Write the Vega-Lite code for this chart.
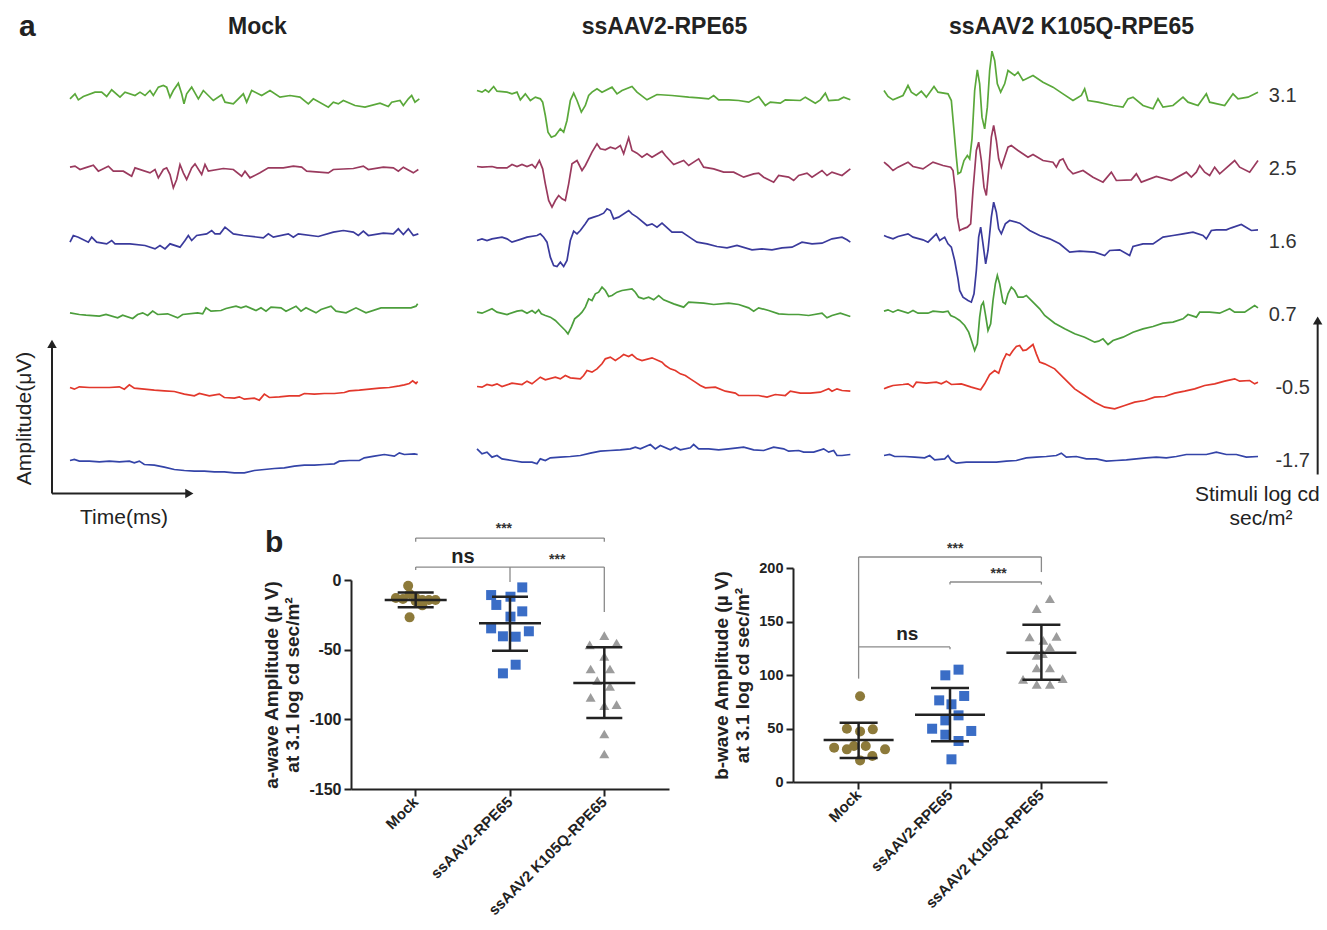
{
"$schema": "https://vega.github.io/schema/vega-lite/v6.json",
"padding": {"left": 13, "top": 12, "right": 4, "bottom": 4},
"config": {"font": "Liberation Sans", "view": {"stroke": null}, "axis": {"grid": false}},
"spacing": -7,
"resolve": {"scale": {"color": "independent", "shape": "independent"}},
"datasets": {
"erg": [
{"g":"M","s":"3.1","t":0,"v":-10},{"g":"M","s":"3.1","t":15,"v":5},{"g":"M","s":"3.1","t":25,"v":-13},{"g":"M","s":"3.1","t":40,"v":-3},{"g":"M","s":"3.1","t":75,"v":10},{"g":"M","s":"3.1","t":95,"v":10},{"g":"M","s":"3.1","t":110,"v":-3},{"g":"M","s":"3.1","t":125,"v":17},{"g":"M","s":"3.1","t":150,"v":-5},{"g":"M","s":"3.1","t":165,"v":10},{"g":"M","s":"3.1","t":195,"v":0},{"g":"M","s":"3.1","t":210,"v":10},{"g":"M","s":"3.1","t":225,"v":0},{"g":"M","s":"3.1","t":240,"v":15},{"g":"M","s":"3.1","t":250,"v":0},{"g":"M","s":"3.1","t":265,"v":25},{"g":"M","s":"3.1","t":280,"v":30},{"g":"M","s":"3.1","t":290,"v":25},{"g":"M","s":"3.1","t":300,"v":-5},{"g":"M","s":"3.1","t":310,"v":15},{"g":"M","s":"3.1","t":325,"v":37},{"g":"M","s":"3.1","t":335,"v":5},{"g":"M","s":"3.1","t":342,"v":-25},{"g":"M","s":"3.1","t":350,"v":5},{"g":"M","s":"3.1","t":365,"v":25},{"g":"M","s":"3.1","t":385,"v":-10},{"g":"M","s":"3.1","t":400,"v":15},{"g":"M","s":"3.1","t":430,"v":-15},{"g":"M","s":"3.1","t":455,"v":2},{"g":"M","s":"3.1","t":465,"v":-20},{"g":"M","s":"3.1","t":490,"v":-25},{"g":"M","s":"3.1","t":520,"v":5},{"g":"M","s":"3.1","t":530,"v":-20},{"g":"M","s":"3.1","t":545,"v":15},{"g":"M","s":"3.1","t":575,"v":0},{"g":"M","s":"3.1","t":600,"v":15},{"g":"M","s":"3.1","t":630,"v":-5},{"g":"M","s":"3.1","t":660,"v":0},{"g":"M","s":"3.1","t":690,"v":-5},{"g":"M","s":"3.1","t":715,"v":-25},{"g":"M","s":"3.1","t":730,"v":-10},{"g":"M","s":"3.1","t":775,"v":-35},{"g":"M","s":"3.1","t":790,"v":-20},{"g":"M","s":"3.1","t":805,"v":-25},{"g":"M","s":"3.1","t":820,"v":-15},{"g":"M","s":"3.1","t":855,"v":-30},{"g":"M","s":"3.1","t":885,"v":-35},{"g":"M","s":"3.1","t":930,"v":-23},{"g":"M","s":"3.1","t":955,"v":-33},{"g":"M","s":"3.1","t":965,"v":-20},{"g":"M","s":"3.1","t":990,"v":-15},{"g":"M","s":"3.1","t":1000,"v":-30},{"g":"M","s":"3.1","t":1015,"v":-10},{"g":"M","s":"3.1","t":1025,"v":0},{"g":"M","s":"3.1","t":1035,"v":-20},{"g":"M","s":"3.1","t":1048,"v":-10},
{"g":"M","s":"2.5","t":0,"v":4},{"g":"M","s":"2.5","t":15,"v":7},{"g":"M","s":"2.5","t":30,"v":-3},{"g":"M","s":"2.5","t":45,"v":2},{"g":"M","s":"2.5","t":70,"v":10},{"g":"M","s":"2.5","t":85,"v":-8},{"g":"M","s":"2.5","t":115,"v":7},{"g":"M","s":"2.5","t":130,"v":-8},{"g":"M","s":"2.5","t":160,"v":-8},{"g":"M","s":"2.5","t":185,"v":-23},{"g":"M","s":"2.5","t":195,"v":2},{"g":"M","s":"2.5","t":240,"v":-13},{"g":"M","s":"2.5","t":255,"v":-3},{"g":"M","s":"2.5","t":265,"v":-28},{"g":"M","s":"2.5","t":280,"v":-3},{"g":"M","s":"2.5","t":290,"v":2},{"g":"M","s":"2.5","t":300,"v":-18},{"g":"M","s":"2.5","t":310,"v":-58},{"g":"M","s":"2.5","t":320,"v":-33},{"g":"M","s":"2.5","t":330,"v":12},{"g":"M","s":"2.5","t":340,"v":-13},{"g":"M","s":"2.5","t":350,"v":-33},{"g":"M","s":"2.5","t":365,"v":2},{"g":"M","s":"2.5","t":375,"v":14},{"g":"M","s":"2.5","t":395,"v":-18},{"g":"M","s":"2.5","t":405,"v":12},{"g":"M","s":"2.5","t":415,"v":-8},{"g":"M","s":"2.5","t":460,"v":0},{"g":"M","s":"2.5","t":490,"v":-3},{"g":"M","s":"2.5","t":515,"v":-23},{"g":"M","s":"2.5","t":525,"v":-8},{"g":"M","s":"2.5","t":540,"v":-28},{"g":"M","s":"2.5","t":570,"v":-13},{"g":"M","s":"2.5","t":595,"v":2},{"g":"M","s":"2.5","t":640,"v":2},{"g":"M","s":"2.5","t":670,"v":7},{"g":"M","s":"2.5","t":695,"v":4},{"g":"M","s":"2.5","t":710,"v":-8},{"g":"M","s":"2.5","t":775,"v":-13},{"g":"M","s":"2.5","t":790,"v":-3},{"g":"M","s":"2.5","t":850,"v":0},{"g":"M","s":"2.5","t":880,"v":7},{"g":"M","s":"2.5","t":895,"v":-3},{"g":"M","s":"2.5","t":940,"v":4},{"g":"M","s":"2.5","t":970,"v":2},{"g":"M","s":"2.5","t":985,"v":-8},{"g":"M","s":"2.5","t":1000,"v":4},{"g":"M","s":"2.5","t":1030,"v":-13},{"g":"M","s":"2.5","t":1045,"v":-3},
{"g":"M","s":"1.6","t":0,"v":-2},{"g":"M","s":"1.6","t":10,"v":18},{"g":"M","s":"1.6","t":25,"v":13},{"g":"M","s":"1.6","t":55,"v":-2},{"g":"M","s":"1.6","t":65,"v":13},{"g":"M","s":"1.6","t":80,"v":-2},{"g":"M","s":"1.6","t":110,"v":-7},{"g":"M","s":"1.6","t":125,"v":3},{"g":"M","s":"1.6","t":135,"v":-7},{"g":"M","s":"1.6","t":180,"v":-7},{"g":"M","s":"1.6","t":225,"v":-12},{"g":"M","s":"1.6","t":255,"v":-22},{"g":"M","s":"1.6","t":270,"v":-12},{"g":"M","s":"1.6","t":285,"v":-22},{"g":"M","s":"1.6","t":300,"v":-7},{"g":"M","s":"1.6","t":330,"v":-17},{"g":"M","s":"1.6","t":345,"v":3},{"g":"M","s":"1.6","t":355,"v":18},{"g":"M","s":"1.6","t":365,"v":3},{"g":"M","s":"1.6","t":380,"v":18},{"g":"M","s":"1.6","t":410,"v":23},{"g":"M","s":"1.6","t":425,"v":33},{"g":"M","s":"1.6","t":435,"v":23},{"g":"M","s":"1.6","t":450,"v":23},{"g":"M","s":"1.6","t":465,"v":43},{"g":"M","s":"1.6","t":475,"v":35},{"g":"M","s":"1.6","t":490,"v":23},{"g":"M","s":"1.6","t":520,"v":18},{"g":"M","s":"1.6","t":580,"v":11},{"g":"M","s":"1.6","t":595,"v":23},{"g":"M","s":"1.6","t":610,"v":13},{"g":"M","s":"1.6","t":655,"v":23},{"g":"M","s":"1.6","t":670,"v":13},{"g":"M","s":"1.6","t":685,"v":23},{"g":"M","s":"1.6","t":745,"v":15},{"g":"M","s":"1.6","t":790,"v":28},{"g":"M","s":"1.6","t":820,"v":33},{"g":"M","s":"1.6","t":850,"v":28},{"g":"M","s":"1.6","t":865,"v":18},{"g":"M","s":"1.6","t":880,"v":31},{"g":"M","s":"1.6","t":895,"v":18},{"g":"M","s":"1.6","t":940,"v":25},{"g":"M","s":"1.6","t":970,"v":23},{"g":"M","s":"1.6","t":985,"v":38},{"g":"M","s":"1.6","t":1000,"v":21},{"g":"M","s":"1.6","t":1015,"v":38},{"g":"M","s":"1.6","t":1030,"v":18},{"g":"M","s":"1.6","t":1045,"v":23},
{"g":"M","s":"0.7","t":0,"v":5},{"g":"M","s":"0.7","t":28,"v":0},{"g":"M","s":"0.7","t":48,"v":-2},{"g":"M","s":"0.7","t":88,"v":-5},{"g":"M","s":"0.7","t":108,"v":0},{"g":"M","s":"0.7","t":143,"v":-10},{"g":"M","s":"0.7","t":158,"v":-2},{"g":"M","s":"0.7","t":188,"v":-12},{"g":"M","s":"0.7","t":203,"v":0},{"g":"M","s":"0.7","t":218,"v":5},{"g":"M","s":"0.7","t":233,"v":-3},{"g":"M","s":"0.7","t":248,"v":10},{"g":"M","s":"0.7","t":263,"v":0},{"g":"M","s":"0.7","t":293,"v":2},{"g":"M","s":"0.7","t":323,"v":-10},{"g":"M","s":"0.7","t":338,"v":0},{"g":"M","s":"0.7","t":383,"v":5},{"g":"M","s":"0.7","t":398,"v":2},{"g":"M","s":"0.7","t":408,"v":20},{"g":"M","s":"0.7","t":423,"v":10},{"g":"M","s":"0.7","t":453,"v":12},{"g":"M","s":"0.7","t":468,"v":18},{"g":"M","s":"0.7","t":498,"v":25},{"g":"M","s":"0.7","t":513,"v":20},{"g":"M","s":"0.7","t":528,"v":25},{"g":"M","s":"0.7","t":558,"v":12},{"g":"M","s":"0.7","t":573,"v":20},{"g":"M","s":"0.7","t":588,"v":10},{"g":"M","s":"0.7","t":603,"v":22},{"g":"M","s":"0.7","t":633,"v":20},{"g":"M","s":"0.7","t":648,"v":10},{"g":"M","s":"0.7","t":678,"v":25},{"g":"M","s":"0.7","t":693,"v":10},{"g":"M","s":"0.7","t":708,"v":20},{"g":"M","s":"0.7","t":738,"v":5},{"g":"M","s":"0.7","t":753,"v":15},{"g":"M","s":"0.7","t":783,"v":25},{"g":"M","s":"0.7","t":798,"v":10},{"g":"M","s":"0.7","t":828,"v":5},{"g":"M","s":"0.7","t":858,"v":20},{"g":"M","s":"0.7","t":888,"v":5},{"g":"M","s":"0.7","t":933,"v":20},{"g":"M","s":"0.7","t":963,"v":20},{"g":"M","s":"0.7","t":993,"v":20},{"g":"M","s":"0.7","t":1023,"v":20},{"g":"M","s":"0.7","t":1038,"v":25},{"g":"M","s":"0.7","t":1043,"v":32},
{"g":"M","s":"-0.5","t":0,"v":0},{"g":"M","s":"-0.5","t":13,"v":-5},{"g":"M","s":"-0.5","t":28,"v":2},{"g":"M","s":"-0.5","t":58,"v":0},{"g":"M","s":"-0.5","t":88,"v":0},{"g":"M","s":"-0.5","t":118,"v":0},{"g":"M","s":"-0.5","t":148,"v":2},{"g":"M","s":"-0.5","t":163,"v":-5},{"g":"M","s":"-0.5","t":178,"v":8},{"g":"M","s":"-0.5","t":193,"v":-2},{"g":"M","s":"-0.5","t":223,"v":-5},{"g":"M","s":"-0.5","t":253,"v":-8},{"g":"M","s":"-0.5","t":283,"v":-10},{"g":"M","s":"-0.5","t":313,"v":-12},{"g":"M","s":"-0.5","t":343,"v":-20},{"g":"M","s":"-0.5","t":373,"v":-25},{"g":"M","s":"-0.5","t":388,"v":-18},{"g":"M","s":"-0.5","t":418,"v":-25},{"g":"M","s":"-0.5","t":448,"v":-20},{"g":"M","s":"-0.5","t":463,"v":-30},{"g":"M","s":"-0.5","t":493,"v":-32},{"g":"M","s":"-0.5","t":508,"v":-28},{"g":"M","s":"-0.5","t":523,"v":-35},{"g":"M","s":"-0.5","t":553,"v":-32},{"g":"M","s":"-0.5","t":568,"v":-38},{"g":"M","s":"-0.5","t":583,"v":-20},{"g":"M","s":"-0.5","t":598,"v":-30},{"g":"M","s":"-0.5","t":628,"v":-28},{"g":"M","s":"-0.5","t":658,"v":-25},{"g":"M","s":"-0.5","t":688,"v":-25},{"g":"M","s":"-0.5","t":703,"v":-18},{"g":"M","s":"-0.5","t":733,"v":-20},{"g":"M","s":"-0.5","t":763,"v":-18},{"g":"M","s":"-0.5","t":793,"v":-18},{"g":"M","s":"-0.5","t":823,"v":-15},{"g":"M","s":"-0.5","t":838,"v":-10},{"g":"M","s":"-0.5","t":868,"v":-8},{"g":"M","s":"-0.5","t":898,"v":-5},{"g":"M","s":"-0.5","t":928,"v":-2},{"g":"M","s":"-0.5","t":958,"v":0},{"g":"M","s":"-0.5","t":988,"v":5},{"g":"M","s":"-0.5","t":1003,"v":8},{"g":"M","s":"-0.5","t":1018,"v":12},{"g":"M","s":"-0.5","t":1028,"v":20},{"g":"M","s":"-0.5","t":1038,"v":12},{"g":"M","s":"-0.5","t":1043,"v":18},
{"g":"M","s":"-1.7","t":0,"v":0},{"g":"M","s":"-1.7","t":13,"v":3},{"g":"M","s":"-1.7","t":28,"v":-2},{"g":"M","s":"-1.7","t":58,"v":-2},{"g":"M","s":"-1.7","t":88,"v":-4},{"g":"M","s":"-1.7","t":118,"v":-2},{"g":"M","s":"-1.7","t":148,"v":-4},{"g":"M","s":"-1.7","t":178,"v":-2},{"g":"M","s":"-1.7","t":193,"v":-7},{"g":"M","s":"-1.7","t":208,"v":-2},{"g":"M","s":"-1.7","t":223,"v":-12},{"g":"M","s":"-1.7","t":253,"v":-14},{"g":"M","s":"-1.7","t":283,"v":-20},{"g":"M","s":"-1.7","t":313,"v":-27},{"g":"M","s":"-1.7","t":343,"v":-30},{"g":"M","s":"-1.7","t":373,"v":-32},{"g":"M","s":"-1.7","t":403,"v":-32},{"g":"M","s":"-1.7","t":433,"v":-34},{"g":"M","s":"-1.7","t":463,"v":-34},{"g":"M","s":"-1.7","t":493,"v":-37},{"g":"M","s":"-1.7","t":523,"v":-37},{"g":"M","s":"-1.7","t":553,"v":-30},{"g":"M","s":"-1.7","t":583,"v":-27},{"g":"M","s":"-1.7","t":613,"v":-24},{"g":"M","s":"-1.7","t":643,"v":-22},{"g":"M","s":"-1.7","t":673,"v":-17},{"g":"M","s":"-1.7","t":703,"v":-14},{"g":"M","s":"-1.7","t":733,"v":-14},{"g":"M","s":"-1.7","t":763,"v":-12},{"g":"M","s":"-1.7","t":793,"v":-10},{"g":"M","s":"-1.7","t":808,"v":-2},{"g":"M","s":"-1.7","t":838,"v":0},{"g":"M","s":"-1.7","t":868,"v":0},{"g":"M","s":"-1.7","t":883,"v":8},{"g":"M","s":"-1.7","t":913,"v":13},{"g":"M","s":"-1.7","t":943,"v":18},{"g":"M","s":"-1.7","t":973,"v":13},{"g":"M","s":"-1.7","t":988,"v":23},{"g":"M","s":"-1.7","t":1003,"v":18},{"g":"M","s":"-1.7","t":1033,"v":20},{"g":"M","s":"-1.7","t":1043,"v":18},
{"g":"A","s":"3.1","t":0,"v":15},{"g":"A","s":"3.1","t":15,"v":10},{"g":"A","s":"3.1","t":25,"v":17},{"g":"A","s":"3.1","t":35,"v":10},{"g":"A","s":"3.1","t":50,"v":27},{"g":"A","s":"3.1","t":60,"v":13},{"g":"A","s":"3.1","t":90,"v":10},{"g":"A","s":"3.1","t":105,"v":5},{"g":"A","s":"3.1","t":120,"v":10},{"g":"A","s":"3.1","t":130,"v":-13},{"g":"A","s":"3.1","t":145,"v":5},{"g":"A","s":"3.1","t":160,"v":-15},{"g":"A","s":"3.1","t":175,"v":-5},{"g":"A","s":"3.1","t":190,"v":-10},{"g":"A","s":"3.1","t":197,"v":-20},{"g":"A","s":"3.1","t":205,"v":-60},{"g":"A","s":"3.1","t":213,"v":-110},{"g":"A","s":"3.1","t":223,"v":-125},{"g":"A","s":"3.1","t":235,"v":-120},{"g":"A","s":"3.1","t":250,"v":-100},{"g":"A","s":"3.1","t":260,"v":-110},{"g":"A","s":"3.1","t":270,"v":-75},{"g":"A","s":"3.1","t":280,"v":-15},{"g":"A","s":"3.1","t":290,"v":7},{"g":"A","s":"3.1","t":300,"v":-15},{"g":"A","s":"3.1","t":313,"v":-50},{"g":"A","s":"3.1","t":325,"v":-30},{"g":"A","s":"3.1","t":335,"v":0},{"g":"A","s":"3.1","t":345,"v":10},{"g":"A","s":"3.1","t":360,"v":20},{"g":"A","s":"3.1","t":375,"v":10},{"g":"A","s":"3.1","t":405,"v":25},{"g":"A","s":"3.1","t":420,"v":5},{"g":"A","s":"3.1","t":435,"v":15},{"g":"A","s":"3.1","t":465,"v":27},{"g":"A","s":"3.1","t":480,"v":10},{"g":"A","s":"3.1","t":510,"v":-13},{"g":"A","s":"3.1","t":540,"v":3},{"g":"A","s":"3.1","t":585,"v":0},{"g":"A","s":"3.1","t":635,"v":-5},{"g":"A","s":"3.1","t":665,"v":-7},{"g":"A","s":"3.1","t":695,"v":-10},{"g":"A","s":"3.1","t":710,"v":0},{"g":"A","s":"3.1","t":725,"v":-13},{"g":"A","s":"3.1","t":755,"v":-13},{"g":"A","s":"3.1","t":785,"v":-15},{"g":"A","s":"3.1","t":815,"v":-20},{"g":"A","s":"3.1","t":845,"v":-3},{"g":"A","s":"3.1","t":865,"v":-30},{"g":"A","s":"3.1","t":880,"v":-20},{"g":"A","s":"3.1","t":910,"v":-23},{"g":"A","s":"3.1","t":925,"v":-13},{"g":"A","s":"3.1","t":970,"v":-15},{"g":"A","s":"3.1","t":985,"v":-5},{"g":"A","s":"3.1","t":1015,"v":-23},{"g":"A","s":"3.1","t":1030,"v":-13},{"g":"A","s":"3.1","t":1045,"v":7},{"g":"A","s":"3.1","t":1055,"v":-15},{"g":"A","s":"3.1","t":1085,"v":-13},{"g":"A","s":"3.1","t":1100,"v":-5},{"g":"A","s":"3.1","t":1120,"v":-13},
{"g":"A","s":"2.5","t":0,"v":6},{"g":"A","s":"2.5","t":15,"v":4},{"g":"A","s":"2.5","t":45,"v":6},{"g":"A","s":"2.5","t":60,"v":2},{"g":"A","s":"2.5","t":90,"v":2},{"g":"A","s":"2.5","t":105,"v":12},{"g":"A","s":"2.5","t":120,"v":6},{"g":"A","s":"2.5","t":135,"v":12},{"g":"A","s":"2.5","t":150,"v":6},{"g":"A","s":"2.5","t":165,"v":12},{"g":"A","s":"2.5","t":175,"v":2},{"g":"A","s":"2.5","t":187,"v":24},{"g":"A","s":"2.5","t":197,"v":-1},{"g":"A","s":"2.5","t":205,"v":-46},{"g":"A","s":"2.5","t":215,"v":-96},{"g":"A","s":"2.5","t":225,"v":-116},{"g":"A","s":"2.5","t":235,"v":-96},{"g":"A","s":"2.5","t":245,"v":-81},{"g":"A","s":"2.5","t":255,"v":-91},{"g":"A","s":"2.5","t":265,"v":-96},{"g":"A","s":"2.5","t":275,"v":-46},{"g":"A","s":"2.5","t":285,"v":14},{"g":"A","s":"2.5","t":300,"v":24},{"g":"A","s":"2.5","t":315,"v":-6},{"g":"A","s":"2.5","t":325,"v":9},{"g":"A","s":"2.5","t":335,"v":29},{"g":"A","s":"2.5","t":345,"v":49},{"g":"A","s":"2.5","t":360,"v":74},{"g":"A","s":"2.5","t":370,"v":59},{"g":"A","s":"2.5","t":385,"v":56},{"g":"A","s":"2.5","t":400,"v":64},{"g":"A","s":"2.5","t":415,"v":59},{"g":"A","s":"2.5","t":430,"v":69},{"g":"A","s":"2.5","t":440,"v":44},{"g":"A","s":"2.5","t":455,"v":92},{"g":"A","s":"2.5","t":465,"v":54},{"g":"A","s":"2.5","t":480,"v":46},{"g":"A","s":"2.5","t":495,"v":34},{"g":"A","s":"2.5","t":510,"v":44},{"g":"A","s":"2.5","t":525,"v":34},{"g":"A","s":"2.5","t":555,"v":52},{"g":"A","s":"2.5","t":565,"v":39},{"g":"A","s":"2.5","t":590,"v":12},{"g":"A","s":"2.5","t":620,"v":24},{"g":"A","s":"2.5","t":635,"v":9},{"g":"A","s":"2.5","t":665,"v":29},{"g":"A","s":"2.5","t":680,"v":4},{"g":"A","s":"2.5","t":710,"v":-1},{"g":"A","s":"2.5","t":740,"v":-11},{"g":"A","s":"2.5","t":770,"v":-11},{"g":"A","s":"2.5","t":800,"v":-26},{"g":"A","s":"2.5","t":830,"v":-16},{"g":"A","s":"2.5","t":845,"v":-14},{"g":"A","s":"2.5","t":860,"v":-26},{"g":"A","s":"2.5","t":890,"v":-41},{"g":"A","s":"2.5","t":905,"v":-21},{"g":"A","s":"2.5","t":935,"v":-26},{"g":"A","s":"2.5","t":950,"v":-36},{"g":"A","s":"2.5","t":965,"v":-21},{"g":"A","s":"2.5","t":990,"v":-14},{"g":"A","s":"2.5","t":1005,"v":-26},{"g":"A","s":"2.5","t":1035,"v":-6},{"g":"A","s":"2.5","t":1050,"v":-21},{"g":"A","s":"2.5","t":1065,"v":-11},{"g":"A","s":"2.5","t":1095,"v":-21},{"g":"A","s":"2.5","t":1120,"v":-1},
{"g":"A","s":"1.6","t":0,"v":3},{"g":"A","s":"1.6","t":15,"v":8},{"g":"A","s":"1.6","t":30,"v":3},{"g":"A","s":"1.6","t":45,"v":8},{"g":"A","s":"1.6","t":75,"v":13},{"g":"A","s":"1.6","t":90,"v":8},{"g":"A","s":"1.6","t":105,"v":-2},{"g":"A","s":"1.6","t":135,"v":8},{"g":"A","s":"1.6","t":150,"v":13},{"g":"A","s":"1.6","t":180,"v":18},{"g":"A","s":"1.6","t":190,"v":23},{"g":"A","s":"1.6","t":200,"v":13},{"g":"A","s":"1.6","t":210,"v":-2},{"g":"A","s":"1.6","t":220,"v":-47},{"g":"A","s":"1.6","t":230,"v":-72},{"g":"A","s":"1.6","t":240,"v":-75},{"g":"A","s":"1.6","t":250,"v":-62},{"g":"A","s":"1.6","t":260,"v":-75},{"g":"A","s":"1.6","t":270,"v":-57},{"g":"A","s":"1.6","t":280,"v":3},{"g":"A","s":"1.6","t":290,"v":31},{"g":"A","s":"1.6","t":300,"v":23},{"g":"A","s":"1.6","t":310,"v":33},{"g":"A","s":"1.6","t":325,"v":53},{"g":"A","s":"1.6","t":335,"v":68},{"g":"A","s":"1.6","t":350,"v":73},{"g":"A","s":"1.6","t":365,"v":78},{"g":"A","s":"1.6","t":380,"v":85},{"g":"A","s":"1.6","t":390,"v":98},{"g":"A","s":"1.6","t":400,"v":93},{"g":"A","s":"1.6","t":410,"v":68},{"g":"A","s":"1.6","t":425,"v":73},{"g":"A","s":"1.6","t":455,"v":93},{"g":"A","s":"1.6","t":465,"v":83},{"g":"A","s":"1.6","t":480,"v":73},{"g":"A","s":"1.6","t":510,"v":48},{"g":"A","s":"1.6","t":525,"v":53},{"g":"A","s":"1.6","t":540,"v":43},{"g":"A","s":"1.6","t":555,"v":55},{"g":"A","s":"1.6","t":585,"v":28},{"g":"A","s":"1.6","t":615,"v":28},{"g":"A","s":"1.6","t":645,"v":8},{"g":"A","s":"1.6","t":660,"v":-2},{"g":"A","s":"1.6","t":690,"v":-7},{"g":"A","s":"1.6","t":720,"v":-15},{"g":"A","s":"1.6","t":750,"v":-19},{"g":"A","s":"1.6","t":780,"v":-12},{"g":"A","s":"1.6","t":825,"v":-25},{"g":"A","s":"1.6","t":855,"v":-22},{"g":"A","s":"1.6","t":885,"v":-25},{"g":"A","s":"1.6","t":915,"v":-19},{"g":"A","s":"1.6","t":945,"v":-17},{"g":"A","s":"1.6","t":975,"v":-2},{"g":"A","s":"1.6","t":1005,"v":-7},{"g":"A","s":"1.6","t":1035,"v":-5},{"g":"A","s":"1.6","t":1065,"v":8},{"g":"A","s":"1.6","t":1095,"v":13},{"g":"A","s":"1.6","t":1110,"v":5},{"g":"A","s":"1.6","t":1120,"v":-2},
{"g":"A","s":"0.7","t":0,"v":7},{"g":"A","s":"0.7","t":15,"v":4},{"g":"A","s":"0.7","t":45,"v":17},{"g":"A","s":"0.7","t":60,"v":7},{"g":"A","s":"0.7","t":90,"v":0},{"g":"A","s":"0.7","t":120,"v":10},{"g":"A","s":"0.7","t":135,"v":12},{"g":"A","s":"0.7","t":150,"v":4},{"g":"A","s":"0.7","t":165,"v":12},{"g":"A","s":"0.7","t":175,"v":4},{"g":"A","s":"0.7","t":185,"v":14},{"g":"A","s":"0.7","t":193,"v":2},{"g":"A","s":"0.7","t":205,"v":-3},{"g":"A","s":"0.7","t":220,"v":-8},{"g":"A","s":"0.7","t":235,"v":-18},{"g":"A","s":"0.7","t":250,"v":-33},{"g":"A","s":"0.7","t":265,"v":-48},{"g":"A","s":"0.7","t":273,"v":-58},{"g":"A","s":"0.7","t":283,"v":-38},{"g":"A","s":"0.7","t":293,"v":-13},{"g":"A","s":"0.7","t":305,"v":-3},{"g":"A","s":"0.7","t":315,"v":7},{"g":"A","s":"0.7","t":325,"v":22},{"g":"A","s":"0.7","t":335,"v":47},{"g":"A","s":"0.7","t":345,"v":42},{"g":"A","s":"0.7","t":355,"v":62},{"g":"A","s":"0.7","t":365,"v":67},{"g":"A","s":"0.7","t":375,"v":82},{"g":"A","s":"0.7","t":385,"v":72},{"g":"A","s":"0.7","t":395,"v":54},{"g":"A","s":"0.7","t":405,"v":57},{"g":"A","s":"0.7","t":420,"v":67},{"g":"A","s":"0.7","t":435,"v":72},{"g":"A","s":"0.7","t":465,"v":77},{"g":"A","s":"0.7","t":475,"v":67},{"g":"A","s":"0.7","t":485,"v":52},{"g":"A","s":"0.7","t":500,"v":47},{"g":"A","s":"0.7","t":515,"v":52},{"g":"A","s":"0.7","t":530,"v":44},{"g":"A","s":"0.7","t":545,"v":57},{"g":"A","s":"0.7","t":560,"v":44},{"g":"A","s":"0.7","t":590,"v":32},{"g":"A","s":"0.7","t":620,"v":22},{"g":"A","s":"0.7","t":635,"v":37},{"g":"A","s":"0.7","t":680,"v":34},{"g":"A","s":"0.7","t":710,"v":30},{"g":"A","s":"0.7","t":755,"v":34},{"g":"A","s":"0.7","t":785,"v":30},{"g":"A","s":"0.7","t":815,"v":20},{"g":"A","s":"0.7","t":830,"v":10},{"g":"A","s":"0.7","t":845,"v":20},{"g":"A","s":"0.7","t":875,"v":12},{"g":"A","s":"0.7","t":905,"v":2},{"g":"A","s":"0.7","t":935,"v":0},{"g":"A","s":"0.7","t":965,"v":0},{"g":"A","s":"0.7","t":995,"v":-3},{"g":"A","s":"0.7","t":1035,"v":4},{"g":"A","s":"0.7","t":1050,"v":-10},{"g":"A","s":"0.7","t":1065,"v":-3},{"g":"A","s":"0.7","t":1090,"v":4},{"g":"A","s":"0.7","t":1120,"v":-6},
{"g":"A","s":"-0.5","t":0,"v":3},{"g":"A","s":"-0.5","t":15,"v":1},{"g":"A","s":"-0.5","t":30,"v":9},{"g":"A","s":"-0.5","t":45,"v":6},{"g":"A","s":"-0.5","t":60,"v":11},{"g":"A","s":"-0.5","t":75,"v":3},{"g":"A","s":"-0.5","t":105,"v":13},{"g":"A","s":"-0.5","t":135,"v":9},{"g":"A","s":"-0.5","t":150,"v":19},{"g":"A","s":"-0.5","t":165,"v":11},{"g":"A","s":"-0.5","t":190,"v":31},{"g":"A","s":"-0.5","t":205,"v":23},{"g":"A","s":"-0.5","t":235,"v":31},{"g":"A","s":"-0.5","t":250,"v":26},{"g":"A","s":"-0.5","t":265,"v":36},{"g":"A","s":"-0.5","t":280,"v":29},{"g":"A","s":"-0.5","t":310,"v":26},{"g":"A","s":"-0.5","t":320,"v":36},{"g":"A","s":"-0.5","t":330,"v":51},{"g":"A","s":"-0.5","t":345,"v":46},{"g":"A","s":"-0.5","t":360,"v":56},{"g":"A","s":"-0.5","t":375,"v":71},{"g":"A","s":"-0.5","t":385,"v":86},{"g":"A","s":"-0.5","t":400,"v":91},{"g":"A","s":"-0.5","t":415,"v":81},{"g":"A","s":"-0.5","t":430,"v":91},{"g":"A","s":"-0.5","t":440,"v":99},{"g":"A","s":"-0.5","t":455,"v":93},{"g":"A","s":"-0.5","t":465,"v":99},{"g":"A","s":"-0.5","t":480,"v":86},{"g":"A","s":"-0.5","t":495,"v":81},{"g":"A","s":"-0.5","t":525,"v":89},{"g":"A","s":"-0.5","t":555,"v":76},{"g":"A","s":"-0.5","t":565,"v":66},{"g":"A","s":"-0.5","t":580,"v":56},{"g":"A","s":"-0.5","t":595,"v":51},{"g":"A","s":"-0.5","t":610,"v":41},{"g":"A","s":"-0.5","t":625,"v":36},{"g":"A","s":"-0.5","t":640,"v":26},{"g":"A","s":"-0.5","t":655,"v":16},{"g":"A","s":"-0.5","t":670,"v":6},{"g":"A","s":"-0.5","t":685,"v":-1},{"g":"A","s":"-0.5","t":715,"v":1},{"g":"A","s":"-0.5","t":745,"v":-11},{"g":"A","s":"-0.5","t":775,"v":-17},{"g":"A","s":"-0.5","t":785,"v":-24},{"g":"A","s":"-0.5","t":815,"v":-24},{"g":"A","s":"-0.5","t":845,"v":-24},{"g":"A","s":"-0.5","t":870,"v":-29},{"g":"A","s":"-0.5","t":895,"v":-21},{"g":"A","s":"-0.5","t":925,"v":-24},{"g":"A","s":"-0.5","t":940,"v":-11},{"g":"A","s":"-0.5","t":970,"v":-17},{"g":"A","s":"-0.5","t":1000,"v":-17},{"g":"A","s":"-0.5","t":1030,"v":-14},{"g":"A","s":"-0.5","t":1055,"v":-4},{"g":"A","s":"-0.5","t":1065,"v":-11},{"g":"A","s":"-0.5","t":1080,"v":-4},{"g":"A","s":"-0.5","t":1095,"v":-9},{"g":"A","s":"-0.5","t":1120,"v":-11},
{"g":"A","s":"-1.7","t":0,"v":35},{"g":"A","s":"-1.7","t":15,"v":20},{"g":"A","s":"-1.7","t":30,"v":25},{"g":"A","s":"-1.7","t":45,"v":10},{"g":"A","s":"-1.7","t":60,"v":15},{"g":"A","s":"-1.7","t":75,"v":5},{"g":"A","s":"-1.7","t":105,"v":0},{"g":"A","s":"-1.7","t":135,"v":-5},{"g":"A","s":"-1.7","t":165,"v":-5},{"g":"A","s":"-1.7","t":180,"v":-10},{"g":"A","s":"-1.7","t":190,"v":5},{"g":"A","s":"-1.7","t":205,"v":0},{"g":"A","s":"-1.7","t":220,"v":8},{"g":"A","s":"-1.7","t":250,"v":10},{"g":"A","s":"-1.7","t":280,"v":12},{"g":"A","s":"-1.7","t":310,"v":15},{"g":"A","s":"-1.7","t":340,"v":22},{"g":"A","s":"-1.7","t":370,"v":28},{"g":"A","s":"-1.7","t":400,"v":30},{"g":"A","s":"-1.7","t":430,"v":32},{"g":"A","s":"-1.7","t":460,"v":35},{"g":"A","s":"-1.7","t":475,"v":40},{"g":"A","s":"-1.7","t":490,"v":35},{"g":"A","s":"-1.7","t":520,"v":48},{"g":"A","s":"-1.7","t":535,"v":35},{"g":"A","s":"-1.7","t":550,"v":45},{"g":"A","s":"-1.7","t":580,"v":32},{"g":"A","s":"-1.7","t":595,"v":40},{"g":"A","s":"-1.7","t":610,"v":32},{"g":"A","s":"-1.7","t":640,"v":38},{"g":"A","s":"-1.7","t":650,"v":48},{"g":"A","s":"-1.7","t":665,"v":35},{"g":"A","s":"-1.7","t":695,"v":35},{"g":"A","s":"-1.7","t":725,"v":32},{"g":"A","s":"-1.7","t":755,"v":35},{"g":"A","s":"-1.7","t":800,"v":40},{"g":"A","s":"-1.7","t":830,"v":32},{"g":"A","s":"-1.7","t":860,"v":30},{"g":"A","s":"-1.7","t":890,"v":40},{"g":"A","s":"-1.7","t":920,"v":35},{"g":"A","s":"-1.7","t":935,"v":28},{"g":"A","s":"-1.7","t":965,"v":30},{"g":"A","s":"-1.7","t":980,"v":25},{"g":"A","s":"-1.7","t":1010,"v":25},{"g":"A","s":"-1.7","t":1040,"v":35},{"g":"A","s":"-1.7","t":1055,"v":25},{"g":"A","s":"-1.7","t":1070,"v":30},{"g":"A","s":"-1.7","t":1080,"v":15},{"g":"A","s":"-1.7","t":1095,"v":15},{"g":"A","s":"-1.7","t":1120,"v":18},
{"g":"K","s":"3.1","t":0,"v":15},{"g":"K","s":"3.1","t":12,"v":-3},{"g":"K","s":"3.1","t":27,"v":-13},{"g":"K","s":"3.1","t":57,"v":0},{"g":"K","s":"3.1","t":72,"v":30},{"g":"K","s":"3.1","t":82,"v":10},{"g":"K","s":"3.1","t":97,"v":0},{"g":"K","s":"3.1","t":112,"v":13},{"g":"K","s":"3.1","t":127,"v":-5},{"g":"K","s":"3.1","t":150,"v":27},{"g":"K","s":"3.1","t":162,"v":10},{"g":"K","s":"3.1","t":192,"v":5},{"g":"K","s":"3.1","t":202,"v":-15},{"g":"K","s":"3.1","t":210,"v":-105},{"g":"K","s":"3.1","t":217,"v":-185},{"g":"K","s":"3.1","t":222,"v":-235},{"g":"K","s":"3.1","t":230,"v":-230},{"g":"K","s":"3.1","t":240,"v":-195},{"g":"K","s":"3.1","t":250,"v":-180},{"g":"K","s":"3.1","t":257,"v":-190},{"g":"K","s":"3.1","t":264,"v":-130},{"g":"K","s":"3.1","t":272,"v":15},{"g":"K","s":"3.1","t":280,"v":77},{"g":"K","s":"3.1","t":287,"v":35},{"g":"K","s":"3.1","t":294,"v":-65},{"g":"K","s":"3.1","t":302,"v":-100},{"g":"K","s":"3.1","t":310,"v":-35},{"g":"K","s":"3.1","t":317,"v":75},{"g":"K","s":"3.1","t":324,"v":133},{"g":"K","s":"3.1","t":332,"v":105},{"g":"K","s":"3.1","t":340,"v":35},{"g":"K","s":"3.1","t":350,"v":10},{"g":"K","s":"3.1","t":362,"v":35},{"g":"K","s":"3.1","t":372,"v":75},{"g":"K","s":"3.1","t":392,"v":60},{"g":"K","s":"3.1","t":402,"v":70},{"g":"K","s":"3.1","t":417,"v":45},{"g":"K","s":"3.1","t":447,"v":60},{"g":"K","s":"3.1","t":477,"v":40},{"g":"K","s":"3.1","t":507,"v":25},{"g":"K","s":"3.1","t":537,"v":5},{"g":"K","s":"3.1","t":567,"v":-15},{"g":"K","s":"3.1","t":592,"v":0},{"g":"K","s":"3.1","t":602,"v":20},{"g":"K","s":"3.1","t":612,"v":-15},{"g":"K","s":"3.1","t":642,"v":-20},{"g":"K","s":"3.1","t":687,"v":-30},{"g":"K","s":"3.1","t":717,"v":-35},{"g":"K","s":"3.1","t":732,"v":-10},{"g":"K","s":"3.1","t":747,"v":-5},{"g":"K","s":"3.1","t":777,"v":-30},{"g":"K","s":"3.1","t":807,"v":-40},{"g":"K","s":"3.1","t":822,"v":-10},{"g":"K","s":"3.1","t":837,"v":-35},{"g":"K","s":"3.1","t":867,"v":-30},{"g":"K","s":"3.1","t":897,"v":-5},{"g":"K","s":"3.1","t":912,"v":-20},{"g":"K","s":"3.1","t":942,"v":-30},{"g":"K","s":"3.1","t":967,"v":5},{"g":"K","s":"3.1","t":977,"v":-20},{"g":"K","s":"3.1","t":1022,"v":-30},{"g":"K","s":"3.1","t":1047,"v":5},{"g":"K","s":"3.1","t":1062,"v":-10},{"g":"K","s":"3.1","t":1092,"v":-5},{"g":"K","s":"3.1","t":1122,"v":10},
{"g":"K","s":"2.5","t":0,"v":19},{"g":"K","s":"2.5","t":12,"v":9},{"g":"K","s":"2.5","t":27,"v":-6},{"g":"K","s":"2.5","t":42,"v":4},{"g":"K","s":"2.5","t":72,"v":19},{"g":"K","s":"2.5","t":87,"v":6},{"g":"K","s":"2.5","t":117,"v":-1},{"g":"K","s":"2.5","t":147,"v":19},{"g":"K","s":"2.5","t":177,"v":9},{"g":"K","s":"2.5","t":200,"v":4},{"g":"K","s":"2.5","t":207,"v":-6},{"g":"K","s":"2.5","t":214,"v":-66},{"g":"K","s":"2.5","t":220,"v":-146},{"g":"K","s":"2.5","t":227,"v":-186},{"g":"K","s":"2.5","t":237,"v":-181},{"g":"K","s":"2.5","t":250,"v":-176},{"g":"K","s":"2.5","t":260,"v":-166},{"g":"K","s":"2.5","t":267,"v":-66},{"g":"K","s":"2.5","t":277,"v":54},{"g":"K","s":"2.5","t":284,"v":79},{"g":"K","s":"2.5","t":292,"v":24},{"g":"K","s":"2.5","t":300,"v":-56},{"g":"K","s":"2.5","t":307,"v":-81},{"g":"K","s":"2.5","t":314,"v":-6},{"g":"K","s":"2.5","t":322,"v":94},{"g":"K","s":"2.5","t":329,"v":129},{"g":"K","s":"2.5","t":337,"v":84},{"g":"K","s":"2.5","t":344,"v":29},{"g":"K","s":"2.5","t":352,"v":4},{"g":"K","s":"2.5","t":362,"v":34},{"g":"K","s":"2.5","t":372,"v":64},{"g":"K","s":"2.5","t":382,"v":69},{"g":"K","s":"2.5","t":402,"v":54},{"g":"K","s":"2.5","t":432,"v":34},{"g":"K","s":"2.5","t":447,"v":42},{"g":"K","s":"2.5","t":477,"v":24},{"g":"K","s":"2.5","t":507,"v":19},{"g":"K","s":"2.5","t":517,"v":4},{"g":"K","s":"2.5","t":527,"v":24},{"g":"K","s":"2.5","t":537,"v":29},{"g":"K","s":"2.5","t":552,"v":-1},{"g":"K","s":"2.5","t":567,"v":-16},{"g":"K","s":"2.5","t":597,"v":-6},{"g":"K","s":"2.5","t":627,"v":-26},{"g":"K","s":"2.5","t":657,"v":-41},{"g":"K","s":"2.5","t":682,"v":-11},{"g":"K","s":"2.5","t":697,"v":-36},{"g":"K","s":"2.5","t":742,"v":-34},{"g":"K","s":"2.5","t":757,"v":-16},{"g":"K","s":"2.5","t":772,"v":-41},{"g":"K","s":"2.5","t":817,"v":-24},{"g":"K","s":"2.5","t":862,"v":-36},{"g":"K","s":"2.5","t":907,"v":-11},{"g":"K","s":"2.5","t":922,"v":-26},{"g":"K","s":"2.5","t":937,"v":-11},{"g":"K","s":"2.5","t":947,"v":9},{"g":"K","s":"2.5","t":962,"v":-11},{"g":"K","s":"2.5","t":977,"v":-21},{"g":"K","s":"2.5","t":992,"v":4},{"g":"K","s":"2.5","t":1007,"v":-16},{"g":"K","s":"2.5","t":1052,"v":24},{"g":"K","s":"2.5","t":1067,"v":4},{"g":"K","s":"2.5","t":1097,"v":-11},{"g":"K","s":"2.5","t":1122,"v":24},
{"g":"K","s":"1.6","t":0,"v":18},{"g":"K","s":"1.6","t":12,"v":13},{"g":"K","s":"1.6","t":27,"v":8},{"g":"K","s":"1.6","t":42,"v":15},{"g":"K","s":"1.6","t":72,"v":23},{"g":"K","s":"1.6","t":87,"v":13},{"g":"K","s":"1.6","t":117,"v":5},{"g":"K","s":"1.6","t":132,"v":-2},{"g":"K","s":"1.6","t":157,"v":23},{"g":"K","s":"1.6","t":167,"v":3},{"g":"K","s":"1.6","t":182,"v":13},{"g":"K","s":"1.6","t":192,"v":-7},{"g":"K","s":"1.6","t":202,"v":-17},{"g":"K","s":"1.6","t":212,"v":-57},{"g":"K","s":"1.6","t":222,"v":-112},{"g":"K","s":"1.6","t":227,"v":-147},{"g":"K","s":"1.6","t":237,"v":-167},{"g":"K","s":"1.6","t":252,"v":-177},{"g":"K","s":"1.6","t":262,"v":-182},{"g":"K","s":"1.6","t":270,"v":-157},{"g":"K","s":"1.6","t":277,"v":-87},{"g":"K","s":"1.6","t":284,"v":13},{"g":"K","s":"1.6","t":290,"v":43},{"g":"K","s":"1.6","t":297,"v":-7},{"g":"K","s":"1.6","t":305,"v":-67},{"g":"K","s":"1.6","t":312,"v":-27},{"g":"K","s":"1.6","t":322,"v":73},{"g":"K","s":"1.6","t":329,"v":118},{"g":"K","s":"1.6","t":337,"v":88},{"g":"K","s":"1.6","t":344,"v":38},{"g":"K","s":"1.6","t":352,"v":23},{"g":"K","s":"1.6","t":364,"v":53},{"g":"K","s":"1.6","t":377,"v":63},{"g":"K","s":"1.6","t":407,"v":55},{"g":"K","s":"1.6","t":437,"v":33},{"g":"K","s":"1.6","t":467,"v":18},{"g":"K","s":"1.6","t":497,"v":8},{"g":"K","s":"1.6","t":527,"v":-7},{"g":"K","s":"1.6","t":557,"v":-32},{"g":"K","s":"1.6","t":587,"v":-29},{"g":"K","s":"1.6","t":632,"v":-32},{"g":"K","s":"1.6","t":662,"v":-42},{"g":"K","s":"1.6","t":677,"v":-27},{"g":"K","s":"1.6","t":707,"v":-25},{"g":"K","s":"1.6","t":737,"v":-42},{"g":"K","s":"1.6","t":747,"v":-15},{"g":"K","s":"1.6","t":777,"v":-7},{"g":"K","s":"1.6","t":807,"v":-7},{"g":"K","s":"1.6","t":837,"v":13},{"g":"K","s":"1.6","t":867,"v":18},{"g":"K","s":"1.6","t":897,"v":23},{"g":"K","s":"1.6","t":927,"v":28},{"g":"K","s":"1.6","t":957,"v":18},{"g":"K","s":"1.6","t":967,"v":8},{"g":"K","s":"1.6","t":982,"v":33},{"g":"K","s":"1.6","t":997,"v":35},{"g":"K","s":"1.6","t":1027,"v":35},{"g":"K","s":"1.6","t":1042,"v":41},{"g":"K","s":"1.6","t":1072,"v":51},{"g":"K","s":"1.6","t":1102,"v":33},{"g":"K","s":"1.6","t":1122,"v":35},
{"g":"K","s":"0.7","t":0,"v":10},{"g":"K","s":"0.7","t":12,"v":14},{"g":"K","s":"0.7","t":27,"v":7},{"g":"K","s":"0.7","t":42,"v":14},{"g":"K","s":"0.7","t":72,"v":4},{"g":"K","s":"0.7","t":87,"v":12},{"g":"K","s":"0.7","t":102,"v":4},{"g":"K","s":"0.7","t":132,"v":4},{"g":"K","s":"0.7","t":147,"v":10},{"g":"K","s":"0.7","t":177,"v":7},{"g":"K","s":"0.7","t":192,"v":10},{"g":"K","s":"0.7","t":200,"v":-3},{"g":"K","s":"0.7","t":212,"v":-8},{"g":"K","s":"0.7","t":227,"v":-18},{"g":"K","s":"0.7","t":242,"v":-33},{"g":"K","s":"0.7","t":254,"v":-53},{"g":"K","s":"0.7","t":264,"v":-83},{"g":"K","s":"0.7","t":272,"v":-108},{"g":"K","s":"0.7","t":280,"v":-88},{"g":"K","s":"0.7","t":287,"v":-8},{"g":"K","s":"0.7","t":292,"v":27},{"g":"K","s":"0.7","t":298,"v":37},{"g":"K","s":"0.7","t":304,"v":2},{"g":"K","s":"0.7","t":312,"v":-48},{"g":"K","s":"0.7","t":320,"v":-28},{"g":"K","s":"0.7","t":327,"v":42},{"g":"K","s":"0.7","t":334,"v":92},{"g":"K","s":"0.7","t":340,"v":117},{"g":"K","s":"0.7","t":347,"v":92},{"g":"K","s":"0.7","t":357,"v":37},{"g":"K","s":"0.7","t":364,"v":32},{"g":"K","s":"0.7","t":372,"v":62},{"g":"K","s":"0.7","t":382,"v":82},{"g":"K","s":"0.7","t":392,"v":72},{"g":"K","s":"0.7","t":402,"v":52},{"g":"K","s":"0.7","t":417,"v":52},{"g":"K","s":"0.7","t":427,"v":57},{"g":"K","s":"0.7","t":447,"v":37},{"g":"K","s":"0.7","t":467,"v":17},{"g":"K","s":"0.7","t":482,"v":-3},{"g":"K","s":"0.7","t":512,"v":-26},{"g":"K","s":"0.7","t":542,"v":-43},{"g":"K","s":"0.7","t":572,"v":-58},{"g":"K","s":"0.7","t":602,"v":-68},{"g":"K","s":"0.7","t":632,"v":-83},{"g":"K","s":"0.7","t":644,"v":-80},{"g":"K","s":"0.7","t":657,"v":-73},{"g":"K","s":"0.7","t":672,"v":-90},{"g":"K","s":"0.7","t":687,"v":-78},{"g":"K","s":"0.7","t":717,"v":-68},{"g":"K","s":"0.7","t":747,"v":-53},{"g":"K","s":"0.7","t":777,"v":-43},{"g":"K","s":"0.7","t":807,"v":-36},{"g":"K","s":"0.7","t":837,"v":-26},{"g":"K","s":"0.7","t":867,"v":-23},{"g":"K","s":"0.7","t":897,"v":-13},{"g":"K","s":"0.7","t":912,"v":0},{"g":"K","s":"0.7","t":937,"v":-8},{"g":"K","s":"0.7","t":947,"v":7},{"g":"K","s":"0.7","t":977,"v":7},{"g":"K","s":"0.7","t":1007,"v":4},{"g":"K","s":"0.7","t":1037,"v":17},{"g":"K","s":"0.7","t":1052,"v":7},{"g":"K","s":"0.7","t":1082,"v":7},{"g":"K","s":"0.7","t":1112,"v":27},{"g":"K","s":"0.7","t":1122,"v":20},
{"g":"K","s":"-0.5","t":0,"v":-4},{"g":"K","s":"-0.5","t":12,"v":1},{"g":"K","s":"-0.5","t":27,"v":6},{"g":"K","s":"-0.5","t":57,"v":9},{"g":"K","s":"-0.5","t":72,"v":11},{"g":"K","s":"-0.5","t":87,"v":1},{"g":"K","s":"-0.5","t":97,"v":16},{"g":"K","s":"-0.5","t":127,"v":13},{"g":"K","s":"-0.5","t":157,"v":16},{"g":"K","s":"-0.5","t":172,"v":11},{"g":"K","s":"-0.5","t":187,"v":19},{"g":"K","s":"-0.5","t":202,"v":9},{"g":"K","s":"-0.5","t":232,"v":11},{"g":"K","s":"-0.5","t":262,"v":1},{"g":"K","s":"-0.5","t":290,"v":-7},{"g":"K","s":"-0.5","t":302,"v":11},{"g":"K","s":"-0.5","t":317,"v":39},{"g":"K","s":"-0.5","t":332,"v":51},{"g":"K","s":"-0.5","t":344,"v":43},{"g":"K","s":"-0.5","t":357,"v":81},{"g":"K","s":"-0.5","t":367,"v":101},{"g":"K","s":"-0.5","t":377,"v":96},{"g":"K","s":"-0.5","t":387,"v":111},{"g":"K","s":"-0.5","t":397,"v":123},{"g":"K","s":"-0.5","t":407,"v":126},{"g":"K","s":"-0.5","t":417,"v":111},{"g":"K","s":"-0.5","t":427,"v":113},{"g":"K","s":"-0.5","t":447,"v":129},{"g":"K","s":"-0.5","t":457,"v":101},{"g":"K","s":"-0.5","t":467,"v":76},{"g":"K","s":"-0.5","t":482,"v":71},{"g":"K","s":"-0.5","t":512,"v":56},{"g":"K","s":"-0.5","t":542,"v":26},{"g":"K","s":"-0.5","t":572,"v":-4},{"g":"K","s":"-0.5","t":602,"v":-24},{"g":"K","s":"-0.5","t":632,"v":-44},{"g":"K","s":"-0.5","t":662,"v":-59},{"g":"K","s":"-0.5","t":692,"v":-64},{"g":"K","s":"-0.5","t":722,"v":-54},{"g":"K","s":"-0.5","t":752,"v":-44},{"g":"K","s":"-0.5","t":782,"v":-39},{"g":"K","s":"-0.5","t":812,"v":-29},{"g":"K","s":"-0.5","t":842,"v":-27},{"g":"K","s":"-0.5","t":872,"v":-17},{"g":"K","s":"-0.5","t":902,"v":-11},{"g":"K","s":"-0.5","t":932,"v":-4},{"g":"K","s":"-0.5","t":962,"v":6},{"g":"K","s":"-0.5","t":992,"v":11},{"g":"K","s":"-0.5","t":1022,"v":19},{"g":"K","s":"-0.5","t":1052,"v":26},{"g":"K","s":"-0.5","t":1067,"v":19},{"g":"K","s":"-0.5","t":1097,"v":21},{"g":"K","s":"-0.5","t":1112,"v":11},{"g":"K","s":"-0.5","t":1122,"v":16},
{"g":"K","s":"-1.7","t":0,"v":15},{"g":"K","s":"-1.7","t":17,"v":18},{"g":"K","s":"-1.7","t":32,"v":12},{"g":"K","s":"-1.7","t":62,"v":12},{"g":"K","s":"-1.7","t":92,"v":10},{"g":"K","s":"-1.7","t":122,"v":8},{"g":"K","s":"-1.7","t":137,"v":15},{"g":"K","s":"-1.7","t":152,"v":2},{"g":"K","s":"-1.7","t":182,"v":5},{"g":"K","s":"-1.7","t":192,"v":15},{"g":"K","s":"-1.7","t":202,"v":0},{"g":"K","s":"-1.7","t":217,"v":-8},{"g":"K","s":"-1.7","t":247,"v":-5},{"g":"K","s":"-1.7","t":277,"v":-5},{"g":"K","s":"-1.7","t":307,"v":-5},{"g":"K","s":"-1.7","t":337,"v":-5},{"g":"K","s":"-1.7","t":367,"v":-2},{"g":"K","s":"-1.7","t":397,"v":0},{"g":"K","s":"-1.7","t":427,"v":8},{"g":"K","s":"-1.7","t":457,"v":10},{"g":"K","s":"-1.7","t":487,"v":12},{"g":"K","s":"-1.7","t":517,"v":15},{"g":"K","s":"-1.7","t":532,"v":22},{"g":"K","s":"-1.7","t":547,"v":10},{"g":"K","s":"-1.7","t":577,"v":12},{"g":"K","s":"-1.7","t":607,"v":5},{"g":"K","s":"-1.7","t":637,"v":5},{"g":"K","s":"-1.7","t":667,"v":-2},{"g":"K","s":"-1.7","t":697,"v":0},{"g":"K","s":"-1.7","t":727,"v":2},{"g":"K","s":"-1.7","t":757,"v":5},{"g":"K","s":"-1.7","t":787,"v":8},{"g":"K","s":"-1.7","t":817,"v":10},{"g":"K","s":"-1.7","t":847,"v":8},{"g":"K","s":"-1.7","t":877,"v":12},{"g":"K","s":"-1.7","t":907,"v":18},{"g":"K","s":"-1.7","t":937,"v":18},{"g":"K","s":"-1.7","t":967,"v":18},{"g":"K","s":"-1.7","t":997,"v":25},{"g":"K","s":"-1.7","t":1027,"v":18},{"g":"K","s":"-1.7","t":1057,"v":18},{"g":"K","s":"-1.7","t":1087,"v":10},{"g":"K","s":"-1.7","t":1122,"v":12},
{"g":"M","s":"-1.7","k":"arrow","t":-54,"v":-99,"t2":-54,"v2":345},
{"g":"M","s":"-1.7","k":"arrow","t":-54,"v":-99,"t2":353,"v2":-99},
{"g":"K","s":"-1.7","k":"arrow","t":1301,"v":-42,"t2":1301,"v2":415},
{"g":"M","s":"-1.7","k":"up","t":-54,"v":350},
{"g":"M","s":"-1.7","k":"right","t":358,"v":-99},
{"g":"K","s":"-1.7","k":"up","t":1301,"v":420},
{"g":"M","s":"-1.7","k":"vlab","t":-135,"v":126,"txt":"Amplitude(μV)"},
{"g":"M","s":"-1.7","k":"hlab","t":162,"v":-171,"txt":"Time(ms)"},
{"g":"K","s":"-1.7","k":"hlab","t":1120,"v":-102,"txt":"Stimuli log cd"},
{"g":"K","s":"-1.7","k":"hlab","t":1131,"v":-174,"txt":"sec/m²"}
],
"aw": [
{"g":"Mock","j":-0.16,"v":-4.1},{"g":"Mock","j":-0.42,"v":-12.9},{"g":"Mock","j":-0.27,"v":-13.6},{"g":"Mock","j":-0.13,"v":-10},{"g":"Mock","j":0,"v":-15.3},{"g":"Mock","j":0.14,"v":-18.2},{"g":"Mock","j":0.14,"v":-14.4},{"g":"Mock","j":0.28,"v":-14.4},{"g":"Mock","j":0.42,"v":-14.4},{"g":"Mock","j":-0.13,"v":-26.8},{"g":"Mock","j":0,"v":-12.9},
{"g":"ssAAV2-RPE65","j":-0.4,"v":-10.8},{"g":"ssAAV2-RPE65","j":0.01,"v":-12},{"g":"ssAAV2-RPE65","j":0.26,"v":-5.3},{"g":"ssAAV2-RPE65","j":-0.29,"v":-17.9},{"g":"ssAAV2-RPE65","j":0.01,"v":-26.3},{"g":"ssAAV2-RPE65","j":0.26,"v":-22.5},{"g":"ssAAV2-RPE65","j":-0.4,"v":-34.7},{"g":"ssAAV2-RPE65","j":-0.15,"v":-40.4},{"g":"ssAAV2-RPE65","j":0.12,"v":-40.7},{"g":"ssAAV2-RPE65","j":0.4,"v":-36.8},{"g":"ssAAV2-RPE65","j":0.12,"v":-60.8},{"g":"ssAAV2-RPE65","j":-0.15,"v":-67},
{"g":"ssAAV2 K105Q-RPE65","j":0,"v":-39.9},{"g":"ssAAV2 K105Q-RPE65","j":-0.31,"v":-46.6},{"g":"ssAAV2 K105Q-RPE65","j":0.26,"v":-45.2},{"g":"ssAAV2 K105Q-RPE65","j":0,"v":-54.8},{"g":"ssAAV2 K105Q-RPE65","j":-0.29,"v":-63.9},{"g":"ssAAV2 K105Q-RPE65","j":0.12,"v":-63.9},{"g":"ssAAV2 K105Q-RPE65","j":-0.15,"v":-72.2},{"g":"ssAAV2 K105Q-RPE65","j":0.12,"v":-76.3},{"g":"ssAAV2 K105Q-RPE65","j":-0.29,"v":-84.2},{"g":"ssAAV2 K105Q-RPE65","j":0,"v":-90.2},{"g":"ssAAV2 K105Q-RPE65","j":0.26,"v":-89.5},{"g":"ssAAV2 K105Q-RPE65","j":0,"v":-110.5},{"g":"ssAAV2 K105Q-RPE65","j":0,"v":-124.9}
],
"aws": [
{"g":"Mock","m":-14.4,"lo":-19.6,"hi":-8.9},{"g":"ssAAV2-RPE65","m":-31.1,"lo":-50.7,"hi":-12},{"g":"ssAAV2 K105Q-RPE65","m":-73.9,"lo":-99,"hi":-48.3}
],
"awb": [
{"x1":"Mock","x2":"ssAAV2 K105Q-RPE65","y1":30.1,"y2":30.1},{"x1":"Mock","x2":"Mock","y1":30.1,"y2":27.5},{"x1":"ssAAV2 K105Q-RPE65","x2":"ssAAV2 K105Q-RPE65","y1":30.1,"y2":27.5},
{"x1":"Mock","x2":"ssAAV2-RPE65","y1":9.3,"y2":9.3},{"x1":"Mock","x2":"Mock","y1":9.3,"y2":7.2},
{"x1":"ssAAV2-RPE65","x2":"ssAAV2 K105Q-RPE65","y1":9.3,"y2":9.3},{"x1":"ssAAV2-RPE65","x2":"ssAAV2-RPE65","y1":9.3,"y2":-1.4},{"x1":"ssAAV2 K105Q-RPE65","x2":"ssAAV2 K105Q-RPE65","y1":9.3,"y2":-23}
],
"awt": [
{"g":"ssAAV2-RPE65","j":-0.13,"y":36.6,"txt":"***"},{"g":"Mock","j":1,"y":16.5,"txt":"ns"},{"g":"ssAAV2-RPE65","j":1,"y":14.4,"txt":"***"}
],
"bw": [
{"g":"Mock","j":0,"v":80.1},{"g":"Mock","j":-0.28,"v":49.8},{"g":"Mock","j":0,"v":47.3},{"g":"Mock","j":0.27,"v":49.2},{"g":"Mock","j":-0.55,"v":32.1},{"g":"Mock","j":-0.28,"v":30.5},{"g":"Mock","j":-0.13,"v":33.6},{"g":"Mock","j":0.12,"v":33.6},{"g":"Mock","j":0.53,"v":30.5},{"g":"Mock","j":0.26,"v":24.3},{"g":"Mock","j":0,"v":20.2},
{"g":"ssAAV2-RPE65","j":0.15,"v":105},{"g":"ssAAV2-RPE65","j":-0.13,"v":99.7},{"g":"ssAAV2-RPE65","j":-0.26,"v":76.3},{"g":"ssAAV2-RPE65","j":0.27,"v":80.4},{"g":"ssAAV2-RPE65","j":0,"v":72.6},{"g":"ssAAV2-RPE65","j":-0.13,"v":57.6},{"g":"ssAAV2-RPE65","j":0.15,"v":62.3},{"g":"ssAAV2-RPE65","j":-0.41,"v":49.8},{"g":"ssAAV2-RPE65","j":-0.13,"v":44.2},{"g":"ssAAV2-RPE65","j":0.42,"v":47.7},{"g":"ssAAV2-RPE65","j":0.15,"v":38.3},{"g":"ssAAV2-RPE65","j":0,"v":21.2},
{"g":"ssAAV2 K105Q-RPE65","j":0.15,"v":171.3},{"g":"ssAAV2 K105Q-RPE65","j":-0.13,"v":162},{"g":"ssAAV2 K105Q-RPE65","j":-0.28,"v":135.5},{"g":"ssAAV2 K105Q-RPE65","j":0.01,"v":132.4},{"g":"ssAAV2 K105Q-RPE65","j":0.29,"v":136.1},{"g":"ssAAV2 K105Q-RPE65","j":0.15,"v":126.2},{"g":"ssAAV2 K105Q-RPE65","j":-0.13,"v":118.4},{"g":"ssAAV2 K105Q-RPE65","j":0,"v":120},{"g":"ssAAV2 K105Q-RPE65","j":-0.13,"v":106.5},{"g":"ssAAV2 K105Q-RPE65","j":0.15,"v":106.5},{"g":"ssAAV2 K105Q-RPE65","j":-0.42,"v":95.9},{"g":"ssAAV2 K105Q-RPE65","j":0.42,"v":96.6},{"g":"ssAAV2 K105Q-RPE65","j":-0.13,"v":91.3},{"g":"ssAAV2 K105Q-RPE65","j":0.15,"v":91.3}
],
"bws": [
{"g":"Mock","m":39.2,"lo":22.4,"hi":55.4},{"g":"ssAAV2-RPE65","m":62.9,"lo":38,"hi":87.8},{"g":"ssAAV2 K105Q-RPE65","m":120.9,"lo":95.6,"hi":147}
],
"bwb": [
{"x1":"Mock","x2":"ssAAV2 K105Q-RPE65","y1":210.3,"y2":210.3},{"x1":"Mock","x2":"Mock","y1":210.3,"y2":96.6},{"x1":"ssAAV2 K105Q-RPE65","x2":"ssAAV2 K105Q-RPE65","y1":210.3,"y2":196.2},
{"x1":"Mock","x2":"ssAAV2-RPE65","y1":126.2,"y2":126.2},{"x1":"ssAAV2-RPE65","x2":"ssAAV2-RPE65","y1":126.2,"y2":124},
{"x1":"ssAAV2-RPE65","x2":"ssAAV2 K105Q-RPE65","y1":186.9,"y2":186.9},{"x1":"ssAAV2-RPE65","x2":"ssAAV2-RPE65","y1":186.9,"y2":184.5},{"x1":"ssAAV2 K105Q-RPE65","x2":"ssAAV2 K105Q-RPE65","y1":186.9,"y2":184.5}
],
"bwt": [
{"g":"ssAAV2-RPE65","j":0.08,"y":218,"txt":"***"},{"g":"Mock","j":1,"y":138.6,"txt":"ns"},{"g":"ssAAV2-RPE65","j":1,"y":194.7,"txt":"***"}
]
},
"vconcat": [
{
"data": {"name": "erg"},
"bounds": "flush",
"title": {"text": "a", "anchor": "start", "frame": "bounds", "fontSize": 30, "fontWeight": "bold", "color": "#222", "dx": 5, "dy": 30},
"facet": {
"row": {"field": "s", "type": "nominal", "sort": ["3.1","2.5","1.6","0.7","-0.5","-1.7"], "title": null, "header": {"labelOrient": "right", "labelAngle": 0, "labelAlign": "left", "labelBaseline": "middle", "labelFontSize": 20, "labelColor": "#333", "labelPadding": -18}},
"column": {"field": "g", "type": "nominal", "sort": ["M","A","K"], "title": null, "header": {"labelExpr": "datum.value == 'M' ? 'Mock' : datum.value == 'A' ? 'ssAAV2-RPE65' : 'ssAAV2 K105Q-RPE65'", "labelFontSize": 23, "labelFontWeight": "bold", "labelColor": "#222", "labelPadding": 20}}
},
"spacing": {"row": 0, "column": 32},
"spec": {
"width": 375, "height": 73,
"layer": [
{"transform": [{"filter": "!datum.k"}], "mark": {"type": "line", "strokeWidth": 1.7},
"encoding": {
"x": {"field": "t", "type": "quantitative", "scale": {"domain": [0, 1125], "nice": false, "zero": false}, "axis": null},
"y": {"field": "v", "type": "quantitative", "scale": {"domain": [-109.5, 109.5], "nice": false, "zero": false}, "axis": null},
"color": {"field": "s", "type": "nominal", "scale": {"domain": ["3.1","2.5","1.6","0.7","-0.5","-1.7"], "range": ["#5aa83a","#9a3a5e","#3a3a9c","#4c9e3c","#e2382c","#3444a8"]}, "legend": null}
}},
{"transform": [{"filter": "datum.k == 'arrow'"}], "mark": {"type": "rule", "strokeWidth": 2, "color": "#222"},
"encoding": {"x": {"field": "t", "type": "quantitative"}, "x2": {"field": "t2"}, "y": {"field": "v", "type": "quantitative"}, "y2": {"field": "v2"}}},
{"transform": [{"filter": "datum.k == 'up'"}], "mark": {"type": "point", "shape": "triangle-up", "filled": true, "size": 90, "color": "#222", "opacity": 1},
"encoding": {"x": {"field": "t", "type": "quantitative"}, "y": {"field": "v", "type": "quantitative"}}},
{"transform": [{"filter": "datum.k == 'right'"}], "mark": {"type": "point", "shape": "triangle-right", "filled": true, "size": 90, "color": "#222", "opacity": 1},
"encoding": {"x": {"field": "t", "type": "quantitative"}, "y": {"field": "v", "type": "quantitative"}}},
{"transform": [{"filter": "datum.k == 'vlab'"}], "mark": {"type": "text", "angle": 270, "fontSize": 21, "color": "#222", "align": "center", "baseline": "middle"},
"encoding": {"x": {"field": "t", "type": "quantitative"}, "y": {"field": "v", "type": "quantitative"}, "text": {"field": "txt"}}},
{"transform": [{"filter": "datum.k == 'hlab'"}], "mark": {"type": "text", "fontSize": 21, "color": "#222", "align": "center", "baseline": "middle"},
"encoding": {"x": {"field": "t", "type": "quantitative"}, "y": {"field": "v", "type": "quantitative"}, "text": {"field": "txt"}}}
]
}
},
{
"spacing": 43,
"hconcat": [
{"width": 149, "height": 10, "data": {"values": [{}]}, "mark": {"type": "text"}, "encoding": {"text": {"value": ""}}},
{
"width": 318, "height": 221,
"title": {"text": "b", "anchor": "start", "frame": "bounds", "fontSize": 30, "fontWeight": "bold", "color": "#222", "dx": 2, "dy": 40},
"layer": [
{"data": {"name": "awb"}, "mark": {"type": "rule", "strokeWidth": 1.3, "color": "#8a8a8a"},
"encoding": {"x": {"field": "x1", "type": "nominal"}, "x2": {"field": "x2"}, "y": {"field": "y1", "type": "quantitative"}, "y2": {"field": "y2"}}},
{"data": {"name": "aw"}, "mark": {"type": "point", "filled": true, "size": 100, "opacity": 1},
"encoding": {
"x": {"field": "g", "type": "nominal", "sort": ["Mock","ssAAV2-RPE65","ssAAV2 K105Q-RPE65"], "scale": {"type": "band", "domain": ["Mock","ssAAV2-RPE65","ssAAV2 K105Q-RPE65"], "paddingInner": 0, "paddingOuter": 0.186}, "axis": {"title": null, "labelAngle": -45, "labelFontSize": 15, "labelFontWeight": "bold", "labelColor": "#222", "domainColor": "#222", "domainWidth": 2, "tickColor": "#222", "tickWidth": 2, "tickSize": 7, "labelPadding": 3}},
"xOffset": {"field": "j", "type": "quantitative", "scale": {"domain": [-1, 1]}},
"y": {"field": "v", "type": "quantitative", "scale": {"domain": [-150, 0], "range": [221, 12], "nice": false, "zero": false}, "axis": {"values": [0, -50, -100, -150], "labelExpr": "replace(datum.label, '−', '-')", "title": ["a-wave Amplitude (µ V)", "at 3.1 log cd sec/m²"], "titleFontSize": 19, "titleFontWeight": "bold", "titleColor": "#222", "titlePadding": 6, "labelFontSize": 16, "labelFontWeight": "bold", "labelColor": "#222", "domainColor": "#222", "domainWidth": 2, "tickColor": "#222", "tickWidth": 2, "tickSize": 7, "labelPadding": 3}},
"color": {"field": "g", "type": "nominal", "scale": {"domain": ["Mock","ssAAV2-RPE65","ssAAV2 K105Q-RPE65"], "range": ["#8d7a3a","#3a6dc6","#9c9c9c"]}, "legend": null},
"shape": {"field": "g", "type": "nominal", "scale": {"domain": ["Mock","ssAAV2-RPE65","ssAAV2 K105Q-RPE65"], "range": ["circle","square","triangle-up"]}, "legend": null}
}},
{"data": {"name": "aws"}, "mark": {"type": "rule", "strokeWidth": 2.5, "color": "#222"},
"encoding": {"x": {"field": "g", "type": "nominal"}, "y": {"field": "lo", "type": "quantitative"}, "y2": {"field": "hi"}}},
{"data": {"name": "aws"}, "mark": {"type": "tick", "size": 62, "thickness": 2.5, "color": "#222", "opacity": 1},
"encoding": {"x": {"field": "g", "type": "nominal"}, "y": {"field": "m", "type": "quantitative"}}},
{"data": {"name": "aws"}, "mark": {"type": "tick", "size": 36, "thickness": 2.5, "color": "#222", "opacity": 1},
"encoding": {"x": {"field": "g", "type": "nominal"}, "y": {"field": "lo", "type": "quantitative"}}},
{"data": {"name": "aws"}, "mark": {"type": "tick", "size": 36, "thickness": 2.5, "color": "#222", "opacity": 1},
"encoding": {"x": {"field": "g", "type": "nominal"}, "y": {"field": "hi", "type": "quantitative"}}},
{"data": {"name": "awt"}, "transform": [{"filter": "datum.txt == 'ns'"}], "mark": {"type": "text", "fontSize": 20, "fontWeight": "bold", "color": "#222"},
"encoding": {"x": {"field": "g", "type": "nominal"}, "xOffset": {"field": "j", "type": "quantitative"}, "y": {"field": "y", "type": "quantitative"}, "text": {"field": "txt"}}},
{"data": {"name": "awt"}, "transform": [{"filter": "datum.txt == '***'"}], "mark": {"type": "text", "fontSize": 14, "fontWeight": "bold", "color": "#333"},
"encoding": {"x": {"field": "g", "type": "nominal"}, "xOffset": {"field": "j", "type": "quantitative"}, "y": {"field": "y", "type": "quantitative"}, "text": {"field": "txt"}}}
]
},
{
"width": 314, "height": 214,
"layer": [
{"data": {"name": "bwb"}, "mark": {"type": "rule", "strokeWidth": 1.3, "color": "#8a8a8a"},
"encoding": {"x": {"field": "x1", "type": "nominal"}, "x2": {"field": "x2"}, "y": {"field": "y1", "type": "quantitative"}, "y2": {"field": "y2"}}},
{"data": {"name": "bw"}, "mark": {"type": "point", "filled": true, "size": 100, "opacity": 1},
"encoding": {
"x": {"field": "g", "type": "nominal", "sort": ["Mock","ssAAV2-RPE65","ssAAV2 K105Q-RPE65"], "scale": {"type": "band", "domain": ["Mock","ssAAV2-RPE65","ssAAV2 K105Q-RPE65"], "paddingInner": 0, "paddingOuter": 0.218}, "axis": {"title": null, "labelAngle": -45, "labelFontSize": 15, "labelFontWeight": "bold", "labelColor": "#222", "domainColor": "#222", "domainWidth": 2, "tickColor": "#222", "tickWidth": 2, "tickSize": 7, "labelPadding": 3}},
"xOffset": {"field": "j", "type": "quantitative", "scale": {"domain": [-1, 1]}},
"y": {"field": "v", "type": "quantitative", "scale": {"domain": [0, 200], "nice": false, "zero": false}, "axis": {"values": [0, 50, 100, 150, 200], "title": ["b-wave Amplitude (µ V)", "at 3.1 log cd sec/m²"], "titleFontSize": 19, "titleFontWeight": "bold", "titleColor": "#222", "titlePadding": 6, "labelFontSize": 14.5, "labelFontWeight": "bold", "labelColor": "#222", "domainColor": "#222", "domainWidth": 2, "tickColor": "#222", "tickWidth": 2, "tickSize": 7, "labelPadding": 3}},
"color": {"field": "g", "type": "nominal", "scale": {"domain": ["Mock","ssAAV2-RPE65","ssAAV2 K105Q-RPE65"], "range": ["#8d7a3a","#3a6dc6","#9c9c9c"]}, "legend": null},
"shape": {"field": "g", "type": "nominal", "scale": {"domain": ["Mock","ssAAV2-RPE65","ssAAV2 K105Q-RPE65"], "range": ["circle","square","triangle-up"]}, "legend": null}
}},
{"data": {"name": "bws"}, "mark": {"type": "rule", "strokeWidth": 2.5, "color": "#222"},
"encoding": {"x": {"field": "g", "type": "nominal"}, "y": {"field": "lo", "type": "quantitative"}, "y2": {"field": "hi"}}},
{"data": {"name": "bws"}, "mark": {"type": "tick", "size": 70, "thickness": 2.5, "color": "#222", "opacity": 1},
"encoding": {"x": {"field": "g", "type": "nominal"}, "y": {"field": "m", "type": "quantitative"}}},
{"data": {"name": "bws"}, "mark": {"type": "tick", "size": 38, "thickness": 2.5, "color": "#222", "opacity": 1},
"encoding": {"x": {"field": "g", "type": "nominal"}, "y": {"field": "lo", "type": "quantitative"}}},
{"data": {"name": "bws"}, "mark": {"type": "tick", "size": 38, "thickness": 2.5, "color": "#222", "opacity": 1},
"encoding": {"x": {"field": "g", "type": "nominal"}, "y": {"field": "hi", "type": "quantitative"}}},
{"data": {"name": "bwt"}, "transform": [{"filter": "datum.txt == 'ns'"}], "mark": {"type": "text", "fontSize": 19, "fontWeight": "bold", "color": "#222"},
"encoding": {"x": {"field": "g", "type": "nominal"}, "xOffset": {"field": "j", "type": "quantitative"}, "y": {"field": "y", "type": "quantitative"}, "text": {"field": "txt"}}},
{"data": {"name": "bwt"}, "transform": [{"filter": "datum.txt == '***'"}], "mark": {"type": "text", "fontSize": 14, "fontWeight": "bold", "color": "#333"},
"encoding": {"x": {"field": "g", "type": "nominal"}, "xOffset": {"field": "j", "type": "quantitative"}, "y": {"field": "y", "type": "quantitative"}, "text": {"field": "txt"}}}
]
}
]
}
]
}
